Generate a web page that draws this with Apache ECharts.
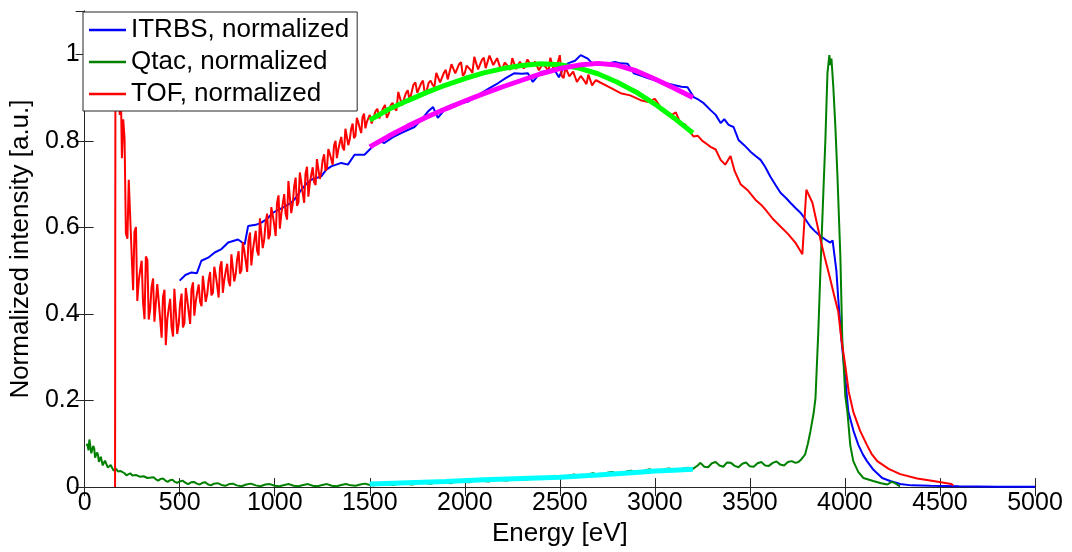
<!DOCTYPE html>
<html>
<head>
<meta charset="utf-8">
<script src="https://cdn.jsdelivr.net/npm/echarts@6/dist/echarts.min.js"></script>
<style>
  html, body { margin: 0; padding: 0; background: #fff; }
  #chart { width: 1072px; height: 552px; }
</style>
</head>
<body>
<div id="chart"></div>
<script>
const FONT = '"Liberation Sans", Arial, sans-serif'
const AXIS_COLOR = '#262626'

const xTicks = { min: 0, max: 5000, interval: 500 }
const yTicks = { min: 0, max: 1.1, interval: 0.2 }

const seriesNames = ['ITRBS, normalized', 'Qtac, normalized', 'TOF, normalized']

// ITRBS, normalized  [energy eV, intensity]
const itrbsPoints = [
  [500, 0.477], [530, 0.49], [562, 0.496], [590, 0.494], [614, 0.523], [650, 0.53], [684, 0.542],
  [720, 0.55], [755, 0.565], [807, 0.572], [842, 0.561], [860, 0.603], [900, 0.606], [930, 0.611],
  [960, 0.62], [991, 0.634], [1040, 0.645], [1087, 0.657], [1110, 0.668], [1140, 0.687], [1165, 0.7],
  [1192, 0.71], [1245, 0.718], [1270, 0.733], [1297, 0.741], [1350, 0.749], [1385, 0.745], [1420, 0.768],
  [1472, 0.768], [1525, 0.791], [1560, 0.798], [1577, 0.795], [1620, 0.808], [1665, 0.818], [1700, 0.825],
  [1735, 0.832], [1770, 0.848], [1805, 0.867], [1833, 0.878], [1858, 0.853], [1890, 0.87], [1928, 0.883],
  [1970, 0.886], [2015, 0.89], [2050, 0.9], [2085, 0.91], [2130, 0.922], [2174, 0.933], [2215, 0.945],
  [2259, 0.956], [2300, 0.955], [2332, 0.956], [2358, 0.936], [2400, 0.959], [2440, 0.962], [2468, 0.967],
  [2495, 0.947], [2520, 0.97], [2542, 0.979], [2580, 0.985], [2610, 0.998], [2647, 0.99], [2679, 0.975],
  [2710, 0.98], [2752, 0.979], [2790, 0.982], [2820, 0.979], [2857, 0.978], [2889, 0.956], [2930, 0.95],
  [2962, 0.945], [3000, 0.94], [3030, 0.936], [3070, 0.932], [3099, 0.929], [3140, 0.925], [3172, 0.924],
  [3204, 0.901], [3230, 0.895], [3257, 0.887], [3293, 0.871], [3320, 0.86], [3346, 0.841], [3365, 0.85],
  [3388, 0.837], [3414, 0.832], [3440, 0.802], [3470, 0.79], [3503, 0.775], [3530, 0.765], [3556, 0.756],
  [3580, 0.74], [3608, 0.717], [3635, 0.698], [3661, 0.68], [3690, 0.668], [3713, 0.657], [3740, 0.645],
  [3766, 0.634], [3790, 0.62], [3818, 0.602], [3840, 0.592], [3860, 0.584], [3880, 0.577], [3897, 0.572],
  [3923, 0.565], [3935, 0.57], [3944, 0.572], [3955, 0.5], [3965, 0.434], [3981, 0.343], [4002, 0.25],
  [4018, 0.174], [4045, 0.13], [4071, 0.097], [4095, 0.075], [4116, 0.06], [4150, 0.04], [4196, 0.021],
  [4238, 0.014], [4291, 0.007], [4350, 0.004], [4450, 0.003], [4600, 0.002], [4800, 0.001], [5000, 0.001]
]

// Qtac, normalized
const qtacPoints = [
  [10, 0.095], [20, 0.085], [30, 0.108], [40, 0.08], [50, 0.09], [60, 0.07], [70, 0.075], [80, 0.062],
  [90, 0.066], [100, 0.055], [115, 0.058], [130, 0.048], [145, 0.047], [160, 0.04], [175, 0.036],
  [190, 0.037], [210, 0.032], [230, 0.031], [250, 0.027], [270, 0.028], [290, 0.024], [310, 0.025],
  [330, 0.021], [350, 0.022], [375, 0.018], [400, 0.019], [425, 0.015], [450, 0.016], [475, 0.012],
  [500, 0.013], [530, 0.01], [560, 0.011], [590, 0.008], [620, 0.01], [650, 0.006], [680, 0.008],
  [720, 0.005], [760, 0.007], [800, 0.004], [850, 0.006], [900, 0.004], [950, 0.006], [1000, 0.003],
  [1050, 0.005], [1100, 0.003], [1150, 0.005], [1200, 0.003], [1250, 0.005], [1300, 0.003], [1350, 0.005],
  [1400, 0.004], [1450, 0.006], [1500, 0.005], [1550, 0.007], [1600, 0.006], [1650, 0.008], [1700, 0.007],
  [1750, 0.01], [1800, 0.009], [1850, 0.011], [1900, 0.011], [1950, 0.013], [2000, 0.012], [2050, 0.015],
  [2100, 0.014], [2150, 0.017], [2200, 0.016], [2250, 0.019], [2300, 0.018], [2350, 0.021], [2400, 0.02],
  [2450, 0.024], [2500, 0.022], [2550, 0.027], [2600, 0.025], [2650, 0.03], [2700, 0.028], [2750, 0.033],
  [2800, 0.031], [2850, 0.036], [2900, 0.034], [2950, 0.039], [3000, 0.036], [3050, 0.041], [3100, 0.039],
  [3150, 0.043], [3200, 0.042], [3225, 0.05], [3260, 0.047], [3300, 0.055], [3340, 0.05], [3380, 0.057],
  [3420, 0.049], [3460, 0.054], [3500, 0.048], [3540, 0.055], [3580, 0.05], [3620, 0.056], [3660, 0.052],
  [3700, 0.058], [3740, 0.056], [3770, 0.064], [3790, 0.075], [3805, 0.1], [3818, 0.128], [3835, 0.17],
  [3845, 0.205], [3860, 0.36], [3871, 0.5], [3887, 0.687], [3897, 0.8], [3908, 0.956], [3918, 0.998],
  [3924, 0.975], [3929, 0.99], [3939, 0.924], [3950, 0.83], [3960, 0.726], [3976, 0.533], [3986, 0.343],
  [4002, 0.21], [4013, 0.174], [4028, 0.097], [4044, 0.06], [4070, 0.035], [4097, 0.021], [4149, 0.014],
  [4190, 0.009], [4223, 0.006], [4245, 0.012], [4260, 0.01], [4281, 0.004], [4290, 0.002]
]
// Qtac noise samples between the ones above
const qtacNoisePoints = [
  [15, 0.1], [25, 0.11], [35, 0.078], [45, 0.095], [55, 0.068], [65, 0.08], [75, 0.058], [85, 0.07],
  [95, 0.05], [107, 0.061], [122, 0.045], [137, 0.051], [152, 0.038], [167, 0.042], [182, 0.032],
  [200, 0.036], [220, 0.027], [240, 0.032], [260, 0.024], [280, 0.029], [300, 0.02], [320, 0.026],
  [340, 0.018], [362, 0.023], [387, 0.015], [412, 0.02], [437, 0.012], [462, 0.017], [487, 0.01],
  [515, 0.015], [545, 0.007], [575, 0.012], [605, 0.006], [635, 0.011], [665, 0.004], [700, 0.009],
  [740, 0.003], [780, 0.008], [825, 0.002], [875, 0.008], [925, 0.002], [975, 0.007], [1025, 0.002],
  [1075, 0.007], [1125, 0.002], [1175, 0.007], [1225, 0.002], [1275, 0.007], [1325, 0.002], [1375, 0.007],
  [1425, 0.003], [1475, 0.008], [1525, 0.004], [1575, 0.009], [1625, 0.005], [1675, 0.01], [1725, 0.006],
  [1775, 0.012], [1825, 0.008], [1875, 0.013], [1925, 0.009], [1975, 0.015], [2025, 0.011], [2075, 0.017],
  [2125, 0.013], [2175, 0.019], [2225, 0.015], [2275, 0.021], [2325, 0.017], [2375, 0.023], [2425, 0.019],
  [2475, 0.026], [2525, 0.021], [2575, 0.029], [2625, 0.024], [2675, 0.032], [2725, 0.027], [2775, 0.035],
  [2825, 0.03], [2875, 0.038], [2925, 0.033], [2975, 0.041], [3025, 0.036], [3075, 0.043], [3125, 0.037],
  [3175, 0.045], [3240, 0.056], [3280, 0.046], [3320, 0.058], [3360, 0.047], [3400, 0.056], [3440, 0.046],
  [3480, 0.057], [3520, 0.047], [3560, 0.058], [3600, 0.049], [3640, 0.059], [3680, 0.05], [3720, 0.06],
  [3755, 0.058]
]

// TOF, normalized
const tofPoints = [
  [160, 0], [162, 1.05], [170, 0.98], [178, 0.9], [185, 0.86], [190, 0.93], [196, 0.76], [203, 0.85],
  [210, 0.804], [225, 0.574], [240, 0.62], [255, 0.455], [270, 0.601], [285, 0.478], [300, 0.523],
  [315, 0.388], [330, 0.525], [345, 0.412], [360, 0.482], [375, 0.384], [390, 0.428], [405, 0.345],
  [420, 0.456], [435, 0.388], [450, 0.435], [465, 0.348], [480, 0.458], [495, 0.377], [510, 0.447],
  [525, 0.379], [540, 0.433], [555, 0.377], [570, 0.473], [585, 0.43], [600, 0.468], [615, 0.418],
  [630, 0.491], [645, 0.446], [660, 0.497], [675, 0.449], [690, 0.489], [705, 0.438], [720, 0.522],
  [735, 0.48], [750, 0.516], [765, 0.464], [780, 0.541], [795, 0.493], [810, 0.545], [825, 0.501],
  [840, 0.546], [855, 0.497], [870, 0.588], [885, 0.547], [900, 0.592], [915, 0.535], [930, 0.624],
  [945, 0.573], [960, 0.632], [975, 0.583], [990, 0.627], [1005, 0.58], [1020, 0.674], [1035, 0.632],
  [1050, 0.677], [1065, 0.618], [1080, 0.711], [1095, 0.655], [1110, 0.715], [1125, 0.658], [1140, 0.704],
  [1155, 0.657], [1170, 0.74], [1185, 0.703], [1200, 0.739], [1215, 0.698], [1230, 0.762], [1245, 0.728],
  [1260, 0.769], [1275, 0.738], [1290, 0.77], [1305, 0.745], [1320, 0.8], [1335, 0.781], [1350, 0.809],
  [1365, 0.778], [1380, 0.832], [1395, 0.804], [1410, 0.84], [1425, 0.812], [1440, 0.842], [1455, 0.818],
  [1470, 0.863], [1485, 0.844], [1500, 0.86], [1520, 0.839], [1540, 0.874], [1560, 0.852], [1580, 0.883],
  [1600, 0.863], [1620, 0.888], [1640, 0.87], [1660, 0.914], [1680, 0.896], [1700, 0.917], [1720, 0.892],
  [1740, 0.935], [1760, 0.911], [1780, 0.939], [1800, 0.917], [1820, 0.939], [1840, 0.925], [1860, 0.959],
  [1880, 0.946], [1900, 0.964], [1920, 0.939], [1940, 0.981], [1960, 0.956], [1980, 0.982], [2000, 0.957],
  [2020, 0.978], [2040, 0.957], [2060, 0.994], [2080, 0.976], [2100, 0.992], [2120, 0.965], [2140, 0.999],
  [2160, 0.973], [2180, 0.994], [2200, 0.969], [2220, 0.983], [2240, 0.964], [2260, 0.99], [2280, 0.974],
  [2300, 0.985], [2320, 0.964], [2340, 0.989], [2360, 0.971], [2380, 0.985], [2400, 0.967], [2420, 0.979],
  [2440, 0.959], [2460, 0.992], [2480, 0.972], [2500, 0.998], [2520, 0.945], [2540, 0.97], [2560, 0.946],
  [2580, 0.962], [2600, 0.939], [2620, 0.95], [2640, 0.931], [2660, 0.951], [2680, 0.935], [2700, 0.941],
  [2760, 0.924], [2820, 0.91], [2870, 0.905], [2925, 0.894], [2960, 0.89], [3000, 0.897], [3030, 0.878],
  [3060, 0.868], [3090, 0.86], [3110, 0.866], [3136, 0.84], [3160, 0.838], [3185, 0.82], [3204, 0.81],
  [3225, 0.812], [3250, 0.80], [3275, 0.792], [3293, 0.786], [3320, 0.78], [3346, 0.756], [3370, 0.745],
  [3398, 0.765], [3420, 0.73], [3451, 0.70], [3490, 0.685], [3529, 0.664], [3560, 0.652], [3582, 0.641],
  [3620, 0.62], [3661, 0.602], [3700, 0.585], [3739, 0.565], [3776, 0.538], [3797, 0.687], [3829, 0.657],
  [3850, 0.615], [3871, 0.572], [3897, 0.525], [3923, 0.48], [3945, 0.44], [3965, 0.405], [3981, 0.343],
  [4002, 0.28], [4020, 0.22], [4044, 0.174], [4080, 0.13], [4116, 0.097], [4140, 0.077], [4170, 0.06],
  [4230, 0.042], [4291, 0.03], [4380, 0.02], [4465, 0.014], [4520, 0.01], [4560, 0.007], [4570, 0.004]
]
// TOF noise samples between the ones above (noisy part of the spectrum)
const tofNoisePoints = [
  [217, 0.586], [232, 0.71], [247, 0.541], [262, 0.59], [277, 0.43], [292, 0.501], [307, 0.428],
  [322, 0.533], [337, 0.387], [352, 0.462], [367, 0.382], [382, 0.469], [397, 0.39], [412, 0.439],
  [427, 0.328], [442, 0.412], [457, 0.371], [472, 0.458], [487, 0.354], [502, 0.423], [517, 0.369],
  [532, 0.46], [547, 0.406], [562, 0.456], [577, 0.396], [592, 0.449], [607, 0.429], [622, 0.488],
  [637, 0.428], [652, 0.477], [667, 0.443], [682, 0.509], [697, 0.466], [712, 0.507], [727, 0.449],
  [742, 0.498], [757, 0.476], [772, 0.538], [787, 0.475], [802, 0.526], [817, 0.493], [832, 0.566],
  [847, 0.523], [862, 0.57], [877, 0.512], [892, 0.569], [907, 0.547], [922, 0.621], [937, 0.552],
  [952, 0.611], [967, 0.573], [982, 0.647], [997, 0.607], [1012, 0.656], [1027, 0.597], [1042, 0.654],
  [1057, 0.632], [1072, 0.707], [1087, 0.633], [1102, 0.694], [1117, 0.65], [1132, 0.727], [1147, 0.68],
  [1162, 0.724], [1177, 0.671], [1192, 0.721], [1207, 0.705], [1222, 0.758], [1237, 0.712], [1252, 0.755],
  [1267, 0.731], [1282, 0.781], [1297, 0.758], [1312, 0.789], [1327, 0.76], [1342, 0.795], [1357, 0.785],
  [1372, 0.828], [1387, 0.79], [1402, 0.827], [1417, 0.806], [1432, 0.853], [1447, 0.83], [1462, 0.855],
  [1477, 0.829], [1492, 0.852], [1510, 0.84], [1530, 0.868], [1550, 0.852], [1570, 0.875], [1590, 0.853],
  [1610, 0.882], [1630, 0.876], [1650, 0.913], [1670, 0.882], [1690, 0.91], [1710, 0.893], [1730, 0.93],
  [1750, 0.911], [1770, 0.933], [1790, 0.908], [1810, 0.934], [1830, 0.93], [1850, 0.957], [1870, 0.935],
  [1890, 0.957], [1910, 0.942], [1930, 0.977], [1950, 0.956], [1970, 0.977], [1990, 0.95], [2010, 0.974],
  [2030, 0.964], [2050, 0.994], [2070, 0.965], [2090, 0.987], [2110, 0.968], [2130, 0.997], [2150, 0.975],
  [2170, 0.991], [2190, 0.964], [2210, 0.981], [2230, 0.971], [2250, 0.991], [2270, 0.966], [2290, 0.983],
  [2310, 0.967], [2330, 0.988], [2350, 0.972], [2370, 0.983], [2390, 0.963], [2410, 0.978], [2430, 0.968],
  [2450, 0.992], [2470, 0.961], [2490, 0.982], [2510, 0.95], [2530, 0.97], [2550, 0.949], [2570, 0.96],
  [2590, 0.936], [2610, 0.95], [2630, 0.938], [2650, 0.953], [2670, 0.928], [2690, 0.94]
]

// fitted curves, 1500..3200 eV
const qtacFitPoints = [
  [1500, 0.848], [1600, 0.873], [1700, 0.893], [1800, 0.912], [1900, 0.929], [2000, 0.944], [2100, 0.957],
  [2200, 0.967], [2300, 0.974], [2400, 0.978], [2500, 0.976], [2600, 0.968], [2700, 0.955], [2800, 0.936],
  [2900, 0.913], [3000, 0.885], [3100, 0.853], [3200, 0.818]
]
const itrbsFitPoints = [
  [1500, 0.786], [1600, 0.811], [1700, 0.834], [1800, 0.855], [1900, 0.874], [2000, 0.892], [2100, 0.909],
  [2200, 0.925], [2300, 0.94], [2400, 0.955], [2500, 0.967], [2600, 0.975], [2700, 0.979], [2800, 0.975],
  [2900, 0.962], [3000, 0.943], [3100, 0.922], [3200, 0.9]
]
const baselineFitPoints = [
  [1500, 0.007], [1700, 0.01], [1900, 0.013], [2100, 0.017], [2300, 0.02], [2500, 0.023], [2700, 0.028],
  [2900, 0.034], [3000, 0.037], [3100, 0.039], [3200, 0.041]
]

function byEnergy(...lists) {
  return [].concat(...lists).sort((a, b) => a[0] - b[0])
}

const chart = echarts.init(document.getElementById('chart'))

function dataLine(name, data, color) {
  return {
    name,
    type: 'line',
    data,
    color,
    showSymbol: false,
    symbol: 'none',
    smooth: false,
    lineStyle: { color, width: 2 },
    z: 2
  }
}

function fitLine(data, color) {
  return {
    type: 'line',
    data,
    showSymbol: false,
    symbol: 'none',
    smooth: false,
    lineStyle: { color, width: 5 },
    z: 3
  }
}

const boxAxis = {
  axisLine: { show: true, lineStyle: { color: AXIS_COLOR, width: 1 } },
  axisTick: { show: true, inside: true, length: 9, lineStyle: { color: AXIS_COLOR } },
  splitLine: { show: false }
}

const option = {
  animation: false,
  backgroundColor: '#fff',
  grid: { left: 83, right: 37, top: 11, bottom: 63 },
  legend: {
    data: seriesNames,
    orient: 'vertical',
    left: 83,
    top: 12,
    backgroundColor: '#fff',
    borderColor: AXIS_COLOR,
    borderWidth: 1,
    borderRadius: 0,
    padding: [5, 8, 4, 6],
    itemGap: 6,
    itemWidth: 37,
    itemHeight: 2.5,
    icon: 'rect',
    selectedMode: false,
    textStyle: { fontFamily: FONT, fontSize: 26, color: '#000' }
  },
  xAxis: [
    {
      type: 'value',
      position: 'bottom',
      ...xTicks,
      name: 'Energy [eV]',
      nameLocation: 'middle',
      nameGap: 32,
      nameTextStyle: { fontFamily: FONT, fontSize: 26, color: '#000' },
      axisLabel: { fontFamily: FONT, fontSize: 25, color: '#000', margin: 4, formatter: (v) => String(v) },
      ...boxAxis
    },
    {
      type: 'value',
      position: 'top',
      ...xTicks,
      axisLabel: { show: false },
      ...boxAxis
    }
  ],
  yAxis: [
    {
      type: 'value',
      position: 'left',
      ...yTicks,
      name: 'Normalized intensity [a.u.]',
      nameLocation: 'middle',
      nameRotate: 90,
      nameGap: 47,
      nameTextStyle: { fontFamily: FONT, fontSize: 26, color: '#000' },
      axisLabel: { fontFamily: FONT, fontSize: 25, color: '#000', margin: 5, showMaxLabel: false },
      ...boxAxis
    },
    {
      type: 'value',
      position: 'right',
      ...yTicks,
      axisLabel: { show: false },
      ...boxAxis
    }
  ],
  series: [
    dataLine(seriesNames[0], itrbsPoints, '#0000ff'),
    dataLine(seriesNames[1], byEnergy(qtacPoints, qtacNoisePoints), '#008000'),
    dataLine(seriesNames[2], byEnergy(tofPoints, tofNoisePoints), '#ff0000'),
    fitLine(qtacFitPoints, '#00ff00'),
    fitLine(itrbsFitPoints, '#ff00ff'),
    fitLine(baselineFitPoints, '#00ffff')
  ]
}

chart.setOption(option)
</script>
</body>
</html>
